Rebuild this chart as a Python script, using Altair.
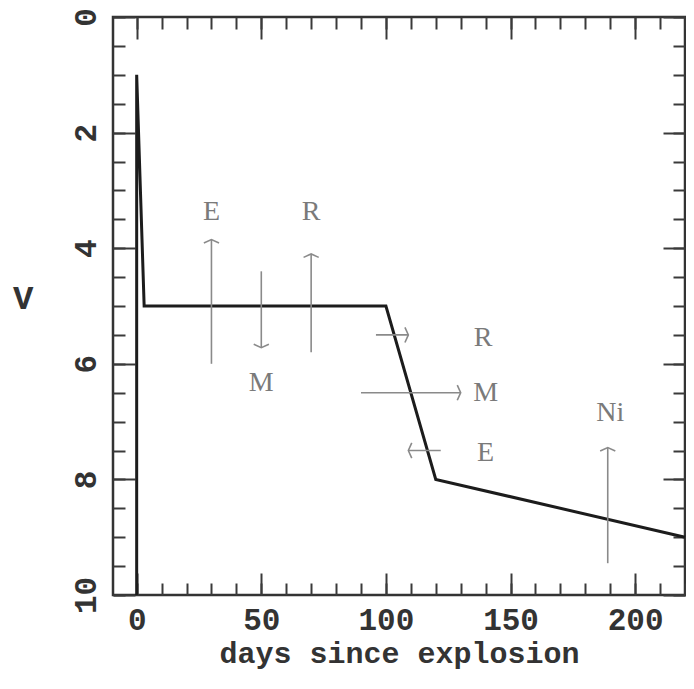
import altair as alt
import pandas as pd

# light curve (days since explosion, V magnitude)
curve_days = [0, 0, 3, 100, 120, 220]
curve_mag = [10, 1, 5, 5, 8, 9]

# arrows: start -> end (head at end)
arrow_day_start = [30, 50, 70, 96, 90, 122, 189]
arrow_mag_start = [6.0, 4.4, 5.8, 5.5, 6.5, 7.5, 9.45]
arrow_day_end = [30, 50, 70, 109, 130, 109, 189]
arrow_mag_end = [3.85, 5.72, 4.1, 5.5, 6.5, 7.5, 7.45]

# annotation labels
label_text = ["E", "M", "R", "R", "M", "E", "Ni"]
label_day = [30, 50, 70, 139, 140, 140, 190]
label_mag = [3.38, 6.33, 3.38, 5.55, 6.5, 7.55, 6.85]

# ticks
x_major = [0, 50, 100, 150, 200]
x_minor = list(range(0, 221, 10))
y_major = [0, 2, 4, 6, 8, 10]
y_minor = [i * 0.5 for i in range(21)]

curve_df = pd.DataFrame({"day": curve_days, "mag": curve_mag, "idx": list(range(len(curve_days)))})


def head_angle(x1, y1, x2, y2):
    if x1 == x2:
        return 0 if y2 < y1 else 180
    return 90 if x2 > x1 else 270


arrow_df = pd.DataFrame({
    "x1": arrow_day_start, "y1": arrow_mag_start,
    "x2": arrow_day_end, "y2": arrow_mag_end,
})
arrow_df["angle"] = [head_angle(a, b, c, d) for a, b, c, d in zip(arrow_day_start, arrow_mag_start, arrow_day_end, arrow_mag_end)]

label_df = pd.DataFrame({"text": label_text, "lx": label_day, "ly": label_mag})

xs = alt.Scale(domain=[-9.5, 220], nice=False, zero=False)
ys = alt.Scale(domain=[0, 10], reverse=True, nice=False, zero=False)

TICK = "#3a3a3a"
MONO = "Liberation Mono"


def tick_axis(orient, values, size, **kw):
    return alt.Axis(orient=orient, values=values, tickSize=size, offset=-size,
                    domain=False, grid=False, ticks=True, tickColor=TICK,
                    tickWidth=2, **kw)


bottom_major = tick_axis("bottom", x_major, 22, labels=True, format="d",
                         labelFont=MONO, labelFontSize=31, labelFontWeight="bold",
                         labelColor="#333", labelPadding=10, labelFlush=False,
                         labelOverlap=False,
                         title="days since explosion", titleFont=MONO,
                         titleFontSize=30, titleFontWeight="bold", titleColor="#333",
                         titlePadding=3)
left_major = tick_axis("left", y_major, 22, labels=True, format="d",
                       labelFont=MONO, labelFontSize=31, labelFontWeight="bold",
                       labelColor="#333", labelAngle=270, labelAlign="center",
                       labelBaseline="alphabetic", labelPadding=18,
                       labelFlush=False, labelOverlap=False,
                       title="V", titleFont=MONO, titleFontSize=34,
                       titleFontWeight="bold", titleColor="#333", titleAngle=0,
                       titleAlign="right", titleBaseline="middle",
                       titleX=-102, titleY=281)
bottom_minor = tick_axis("bottom", x_minor, 12, labels=False, title=None)
left_minor = tick_axis("left", y_minor, 12, labels=False, title=None)
top_major = tick_axis("top", x_major, 22, labels=False, title=None)
right_major = tick_axis("right", y_major, 22, labels=False, title=None)
top_minor = tick_axis("top", x_minor, 12, labels=False, title=None)
right_minor = tick_axis("right", y_minor, 12, labels=False, title=None)

curve = alt.Chart(curve_df).mark_line(color="#1c1c1c", strokeWidth=3, strokeJoin="miter").encode(
    x=alt.X("day:Q", scale=xs, axis=bottom_major),
    y=alt.Y("mag:Q", scale=ys, axis=left_major),
    order="idx:Q",
)

shafts = alt.Chart(arrow_df).mark_rule(color="#8a8a8a", strokeWidth=1.6).encode(
    x=alt.X("x1:Q", scale=xs, axis=bottom_minor),
    x2="x2:Q",
    y=alt.Y("y1:Q", scale=ys, axis=left_minor),
    y2="y2:Q",
)

heads = alt.Chart(arrow_df).mark_point(
    shape="M -1 0.45 L 0 0 L 1 0.45", filled=False, color="#8a8a8a",
    strokeWidth=1.6, size=230, opacity=1,
).encode(
    x=alt.X("x2:Q", scale=xs, axis=top_major),
    y=alt.Y("y2:Q", scale=ys, axis=right_major),
    angle=alt.Angle("angle:Q", scale=None),
)

labels = alt.Chart(label_df).mark_text(
    font="Liberation Serif", fontSize=28, color="#7a7a7a",
    align="center", baseline="middle",
).encode(
    x=alt.X("lx:Q", scale=xs, axis=top_minor),
    y=alt.Y("ly:Q", scale=ys, axis=right_minor),
    text="text:N",
)

chart = alt.layer(curve, shafts, heads, labels).resolve_axis(
    x="independent", y="independent"
).properties(
    width=572, height=578,
    autosize=alt.AutoSizeParams(type="none"),
    padding={"left": 105, "top": 9, "right": 1, "bottom": 76},
    background="white",
).configure_view(stroke="#333", strokeWidth=2.5)

chart.save("out.html", embed_options={"renderer": "svg", "actions": False})
